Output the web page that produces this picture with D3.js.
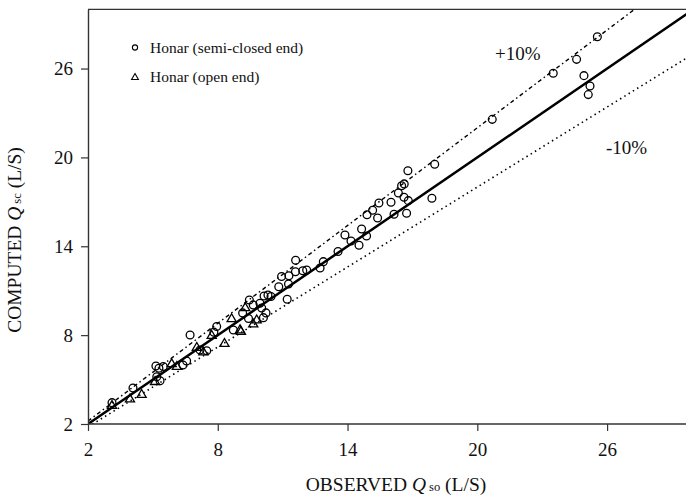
<!DOCTYPE html>
<html>
<head>
<meta charset="utf-8">
<script src="https://cdn.jsdelivr.net/npm/d3@7"></script>
<style>
  html, body { margin: 0; padding: 0; background: #fff; }
  svg { display: block; }
  text { font-family: "Liberation Serif", "Times New Roman", serif; fill: #111; }
</style>
</head>
<body>
<svg id="chart" width="686" height="497"></svg>
<script>
// ---- data ----
const xTicks = [2, 8, 14, 20, 26];
const yTicks = [2, 8, 14, 20, 26];
const lineFactors = [1.0, 1.1, 0.9];   // perfect agreement, +10%, -10%
const lineLabels = ["", "+10%", "-10%"];

// Honar (semi-closed end): observed / computed
const semiObs = [25.55, 24.59, 23.51, 24.93, 25.21, 25.13, 20.69, 18.03, 16.79, 16.50, 16.62, 16.35, 16.61, 16.81, 17.90,
  16.01, 15.45, 15.16, 14.90, 15.39, 16.15, 16.73, 14.65, 13.88, 14.16, 14.88, 14.53, 13.56, 12.88, 12.73,
  11.60, 12.11, 11.93, 11.59, 11.29, 10.95, 11.27, 10.82, 10.46, 10.14, 10.32, 11.21, 9.46, 9.64, 9.95,
  10.03, 9.15, 10.23, 10.11, 9.42, 7.95, 7.82, 8.72, 6.72, 7.18, 7.49, 6.56, 6.39, 5.14, 5.48, 5.28,
  5.18, 5.33, 4.08, 3.11];
const semiComp = [28.15, 26.62, 25.68, 25.52, 24.82, 24.24, 22.57, 19.54, 19.10, 18.09, 18.21, 17.60, 17.31, 17.08, 17.24,
  16.97, 16.92, 16.43, 16.13, 15.91, 16.16, 16.23, 15.17, 14.76, 14.36, 14.69, 14.07, 13.65, 12.96, 12.53,
  13.05, 12.40, 12.35, 12.28, 12.01, 11.96, 11.45, 11.27, 10.61, 10.64, 10.71, 10.42, 10.37, 10.04, 10.15,
  9.83, 9.50, 9.50, 9.18, 9.12, 8.58, 8.20, 8.35, 8.01, 7.00, 6.95, 6.25, 5.98, 5.92, 5.88, 5.76,
  5.19, 4.92, 4.43, 3.44];

// Honar (open end): observed / computed
const openObs = [9.27, 8.64, 9.80, 9.64, 9.03, 8.31, 7.72, 7.03, 7.33, 5.87, 6.11, 5.10, 4.48, 3.94, 3.11, 9.07];
const openComp = [9.88, 9.14, 9.06, 8.79, 8.39, 7.47, 8.01, 7.20, 6.90, 6.10, 5.92, 4.90, 4.03, 3.72, 3.28, 8.28];

const legendLabels = ["Honar (semi-closed end)", "Honar (open end)"];

// ---- chart ----
const svg = d3.select("#chart");
const x = d3.scaleLinear().domain([2, 30]).range([88, 693.6]);
const y = d3.scaleLinear().domain([2, 30]).range([424, 9.3]);

svg.append("rect").attr("width", 686).attr("height", 497).attr("fill", "#fff");

svg.append("defs").append("clipPath").attr("id", "clip")
  .append("rect").attr("x", 88).attr("y", 9.3).attr("width", 606).attr("height", 414.7);

// reference lines
const lineG = svg.append("g").attr("clip-path", "url(#clip)");
const dashes = [null, "4,3,1.5,3", "1.5,3.5"];
const widths = [2.5, 1.4, 1.6];
lineFactors.forEach((f, i) => {
  lineG.append("line")
    .attr("x1", x(2)).attr("y1", y(2 * f))
    .attr("x2", x(30)).attr("y2", y(30 * f))
    .attr("stroke", "#000")
    .attr("stroke-width", widths[i])
    .attr("stroke-dasharray", dashes[i]);
});

// top border
svg.append("line").attr("x1", 88).attr("x2", 686).attr("y1", 9.3).attr("y2", 9.3)
  .attr("stroke", "#333").attr("stroke-width", 1.2);

// axes
const xAxis = svg.append("g").attr("transform", "translate(0,424)")
  .call(d3.axisBottom(x).tickValues(xTicks).tickSize(7).tickPadding(12).tickSizeOuter(0));
const yAxis = svg.append("g").attr("transform", "translate(88,0)")
  .call(d3.axisLeft(y).tickValues(yTicks).tickSize(7).tickPadding(8).tickSizeOuter(0));
[xAxis, yAxis].forEach(a => {
  a.select(".domain").attr("stroke", "#333").attr("stroke-width", 1.4);
  a.selectAll(".tick line").attr("stroke", "#333").attr("stroke-width", 1.2);
  a.selectAll(".tick text").attr("font-family", "Liberation Serif, serif")
    .attr("font-size", 19).attr("fill", "#111");
});
xAxis.select(".domain").attr("d", "M88,0H686");

// markers
const semi = semiObs.map((v, i) => [v, semiComp[i]]);
const open = openObs.map((v, i) => [v, openComp[i]]);
const triSym = d3.symbol().type(d3.symbolTriangle).size(36);

svg.append("g").selectAll("path").data(open).join("path")
  .attr("d", triSym)
  .attr("transform", d => `translate(${x(d[0])},${y(d[1]) + 0.8})`)
  .attr("fill", "none").attr("stroke", "#000").attr("stroke-width", 1.3);

svg.append("g").selectAll("circle").data(semi).join("circle")
  .attr("cx", d => x(d[0])).attr("cy", d => y(d[1])).attr("r", 3.9)
  .attr("fill", "none").attr("stroke", "#000").attr("stroke-width", 1.3);

// line labels
svg.append("text").attr("x", 495).attr("y", 60).attr("font-size", 19).text(lineLabels[1]);
svg.append("text").attr("x", 606).attr("y", 154).attr("font-size", 19).text(lineLabels[2]);

// legend
const lg = svg.append("g");
lg.append("circle").attr("cx", 135).attr("cy", 47.5).attr("r", 2.6)
  .attr("fill", "none").attr("stroke", "#000").attr("stroke-width", 1.1);
lg.append("path").attr("d", d3.symbol().type(d3.symbolTriangle).size(20))
  .attr("transform", "translate(135,77.5)")
  .attr("fill", "none").attr("stroke", "#000").attr("stroke-width", 1.1);
lg.append("text").attr("x", 150).attr("y", 53).attr("font-size", 15.5).text(legendLabels[0]);
lg.append("text").attr("x", 150).attr("y", 82).attr("font-size", 15.5).text(legendLabels[1]);

// axis titles
const xt = svg.append("text").attr("x", 396).attr("y", 491).attr("text-anchor", "middle").attr("font-size", 19.5);
xt.append("tspan").text("OBSERVED ");
xt.append("tspan").attr("font-style", "italic").text("Q");
xt.append("tspan").attr("font-size", 12.5).attr("dx", 3).text("so");
xt.append("tspan").text(" (L/S)");

const yt = svg.append("text").attr("transform", "translate(21,240) rotate(-90)")
  .attr("text-anchor", "middle").attr("font-size", 19.5);
yt.append("tspan").text("COMPUTED ");
yt.append("tspan").attr("font-style", "italic").text("Q");
yt.append("tspan").attr("font-size", 12.5).attr("dx", 3).text("sc");
yt.append("tspan").text(" (L/S)");
</script>
</body>
</html>
